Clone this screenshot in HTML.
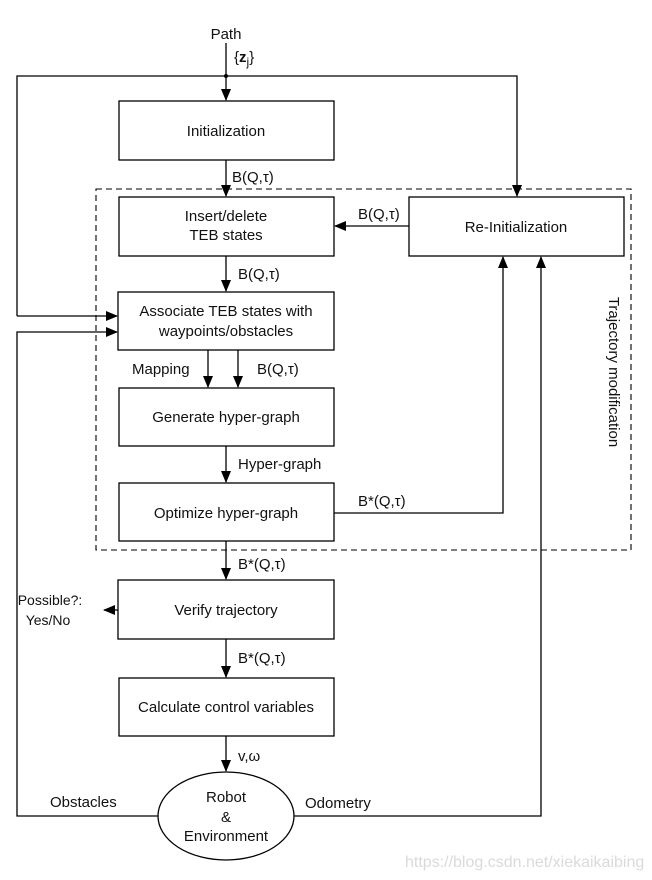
<!DOCTYPE html>
<html><head><meta charset="utf-8"><style>
html,body{margin:0;padding:0;background:#fff;}
svg{display:block;}
text{font-family:"Liberation Sans",Arial,sans-serif;font-size:15px;fill:#111;}
</style></head><body>
<svg width="652" height="880" viewBox="0 0 652 880" xmlns="http://www.w3.org/2000/svg">
<defs>
<marker id="a" markerWidth="12" markerHeight="10" refX="11" refY="5" orient="auto" markerUnits="userSpaceOnUse">
<path d="M0,0 L12,5 L0,10 z" fill="#000"/>
</marker>
</defs>
<g stroke="#000" stroke-width="1.3" fill="none">
<rect x="96" y="189" width="535" height="361" stroke-dasharray="6,4" stroke-width="1.1"/>
<rect x="119" y="101" width="215" height="59" fill="#fff"/>
<rect x="119" y="197" width="215" height="59" fill="#fff"/>
<rect x="409" y="197" width="215" height="59" fill="#fff"/>
<rect x="118" y="292" width="216" height="58" fill="#fff"/>
<rect x="119" y="388" width="215" height="58" fill="#fff"/>
<rect x="119" y="483" width="215" height="58" fill="#fff"/>
<rect x="118" y="580" width="216" height="59" fill="#fff"/>
<rect x="119" y="678" width="215" height="58" fill="#fff"/>
<ellipse cx="226" cy="816" rx="68" ry="44" fill="#fff"/>
<line x1="226" y1="43" x2="226" y2="100" marker-end="url(#a)"/>
<polyline points="17,316 17,76 517,76 517,196" marker-end="url(#a)"/>
<line x1="17" y1="316" x2="117" y2="316" marker-end="url(#a)"/>
<polyline points="158,816 17,816 17,332 117,332" marker-end="url(#a)"/>
<line x1="226" y1="160" x2="226" y2="196" marker-end="url(#a)"/>
<line x1="409" y1="226" x2="335" y2="226" marker-end="url(#a)"/>
<line x1="226" y1="256" x2="226" y2="291" marker-end="url(#a)"/>
<line x1="208" y1="350" x2="208" y2="387" marker-end="url(#a)"/>
<line x1="238" y1="350" x2="238" y2="387" marker-end="url(#a)"/>
<line x1="226" y1="446" x2="226" y2="482" marker-end="url(#a)"/>
<polyline points="334,513 503,513 503,257" marker-end="url(#a)"/>
<polyline points="294,816 541,816 541,257" marker-end="url(#a)"/>
<line x1="226" y1="541" x2="226" y2="579" marker-end="url(#a)"/>
<line x1="118" y1="610" x2="104" y2="610" marker-end="url(#a)"/>
<line x1="226" y1="639" x2="226" y2="677" marker-end="url(#a)"/>
<line x1="226" y1="736" x2="226" y2="771" marker-end="url(#a)"/>
</g>
<circle cx="226" cy="76" r="2" fill="#000"/>
<g text-anchor="middle">
<text x="226" y="39">Path</text>
<text x="226" y="136">Initialization</text>
<text x="226" y="221">Insert/delete</text>
<text x="226" y="240">TEB states</text>
<text x="516" y="232">Re-Initialization</text>
<text x="226" y="316">Associate TEB states with</text>
<text x="226" y="336">waypoints/obstacles</text>
<text x="226" y="422">Generate hyper-graph</text>
<text x="226" y="518">Optimize hyper-graph</text>
<text x="226" y="615">Verify trajectory</text>
<text x="226" y="712">Calculate control variables</text>
<text x="226" y="802">Robot</text>
<text x="226" y="822">&amp;</text>
<text x="226" y="841">Environment</text>
<text x="50" y="605" style="font-size:14px">Possible?:</text>
<text x="48" y="625" style="font-size:14px">Yes/No</text>
</g>
<text x="234" y="62">{<tspan font-weight="bold">z</tspan><tspan font-size="12" dy="4">j</tspan><tspan dy="-4">}</tspan></text>
<text x="232" y="182">B(Q,τ)</text>
<text x="358" y="219">B(Q,τ)</text>
<text x="238" y="279">B(Q,τ)</text>
<text x="132" y="374">Mapping</text>
<text x="257" y="374">B(Q,τ)</text>
<text x="238" y="469">Hyper-graph</text>
<text x="358" y="506">B*(Q,τ)</text>
<text x="238" y="569">B*(Q,τ)</text>
<text x="238" y="663">B*(Q,τ)</text>
<text x="238" y="761">v,ω</text>
<text x="50" y="807">Obstacles</text>
<text x="305" y="808">Odometry</text>
<text x="0" y="0" text-anchor="middle" transform="translate(609,372) rotate(90)">Trajectory modification</text>
<text x="405" y="867" style="fill:#dadada;font-size:16px">https://blog.csdn.net/xiekaikaibing</text>
</svg>
</body></html>
